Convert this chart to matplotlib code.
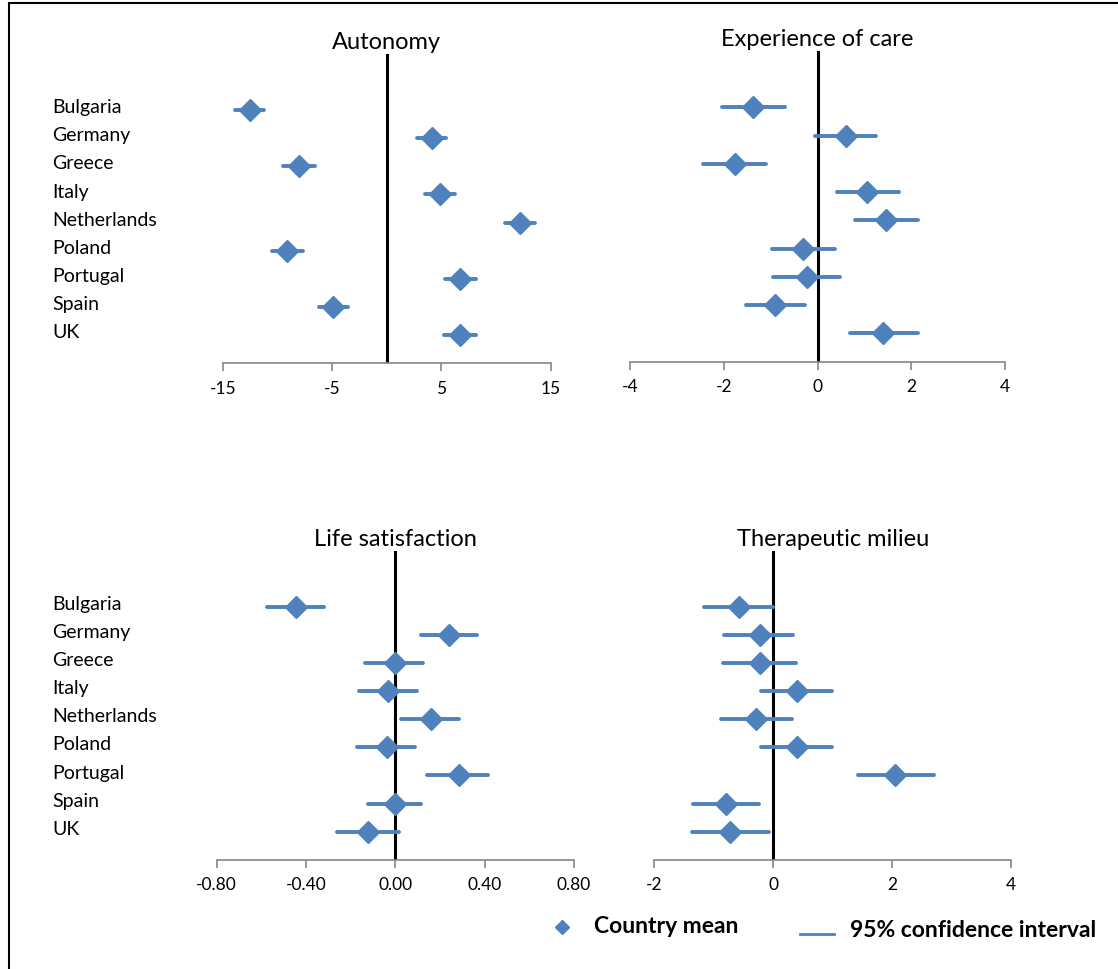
import matplotlib
matplotlib.use("Agg")
import matplotlib.pyplot as plt
import matplotlib.transforms as mtransforms
from matplotlib.lines import Line2D

plt.rcParams['font.family'] = ['Lato', 'DejaVu Sans']

countries = ['Bulgaria', 'Germany', 'Greece', 'Italy', 'Netherlands',
             'Poland', 'Portugal', 'Spain', 'UK']

# Autonomy
auto_mean = [-12.5, 4.1, -8.0, 4.9, 12.2, -9.15, 6.7, -4.9, 6.7]
auto_lo = [-13.9, 2.75, -9.45, 3.5, 10.8, -10.5, 5.3, -6.2, 5.2]
auto_hi = [-11.2, 5.4, -6.6, 6.25, 13.6, -7.7, 8.2, -3.5, 8.2]

# Experience of care
care_mean = [-1.37, 0.60, -1.77, 1.06, 1.46, -0.32, -0.22, -0.90, 1.40]
care_lo = [-2.04, -0.05, -2.45, 0.41, 0.81, -0.98, -0.96, -1.52, 0.69]
care_hi = [-0.69, 1.25, -1.10, 1.74, 2.15, 0.37, 0.49, -0.27, 2.14]

# Life satisfaction
life_mean = [-0.446, 0.240, 0.0, -0.031, 0.160, -0.039, 0.285, 0.0, -0.121]
life_lo = [-0.573, 0.115, -0.136, -0.161, 0.025, -0.170, 0.140, -0.124, -0.260]
life_hi = [-0.319, 0.364, 0.125, 0.096, 0.285, 0.088, 0.417, 0.115, 0.017]

# Therapeutic milieu
ther_mean = [-0.58, -0.23, -0.22, 0.40, -0.29, 0.40, 2.05, -0.79, -0.72]
ther_lo = [-1.16, -0.82, -0.84, -0.21, -0.88, -0.21, 1.42, -1.35, -1.36]
ther_hi = [0.0, 0.34, 0.38, 0.99, 0.32, 0.99, 2.70, -0.24, -0.07]

blue = '#4F81BD'
W, H = 1118, 970


def px_axes(x0, x1, ytop, ybot):
    return [x0 / W, 1 - ybot / H, (x1 - x0) / W, (ybot - ytop) / H]


def draw_panel(ax, title, mean, lo, hi, xlim, xticks, xlabels, label_top):
    n = len(countries)
    ypos = [n - i for i in range(n)]
    for y, a, b in zip(ypos, lo, hi):
        ax.plot([a, b], [y, y], color=blue, lw=2.8, solid_capstyle='round', zorder=2)
    ax.plot(mean, ypos, linestyle='none', marker='D', markersize=11,
            color=blue, zorder=3)
    ax.axvline(0, color='black', lw=2.2, zorder=1)
    ax.set_xlim(*xlim)
    ax.set_ylim(0, 11)
    ax.set_xticks(xticks)
    ax.set_xticklabels(xlabels, fontsize=12.5)
    ax.set_yticks([])
    for s in ['top', 'left', 'right']:
        ax.spines[s].set_visible(False)
    ax.spines['bottom'].set_color('#868686')
    ax.spines['bottom'].set_linewidth(1.2)
    ax.tick_params(axis='x', direction='out', length=6, width=1.2,
                   color='#868686', pad=6)
    ax.set_title(title, fontsize=17, pad=4)
    if label_top:
        tr = mtransforms.blended_transform_factory(fig.transFigure, ax.transData)
        for y, c in zip(ypos, countries):
            ax.text(52 / W, y + 0.12, c, transform=tr, fontsize=14,
                    ha='left', va='center')


fig = plt.figure(figsize=(W / 100, H / 100), dpi=100)

ax1 = fig.add_axes(px_axes(222.7, 550.7, 55, 364))
draw_panel(ax1, 'Autonomy', auto_mean, auto_lo, auto_hi, (-15, 15),
           [-15, -5, 5, 15], ['-15', '-5', '5', '15'], True)

ax2 = fig.add_axes(px_axes(630, 1005, 52, 362.7))
draw_panel(ax2, 'Experience of care', care_mean, care_lo, care_hi, (-4, 4),
           [-4, -2, 0, 2, 4], ['-4', '-2', '0', '2', '4'], False)

ax3 = fig.add_axes(px_axes(216.7, 574, 551.6, 860.7))
draw_panel(ax3, 'Life satisfaction', life_mean, life_lo, life_hi, (-0.8, 0.8),
           [-0.8, -0.4, 0, 0.4, 0.8], ['-0.80', '-0.40', '0.00', '0.40', '0.80'], True)

ax4 = fig.add_axes(px_axes(654.3, 1011, 551.6, 860.7))
draw_panel(ax4, 'Therapeutic milieu', ther_mean, ther_lo, ther_hi, (-2, 4),
           [-2, 0, 2, 4], ['-2', '0', '2', '4'], False)

# legend
fig.add_artist(Line2D([562 / W], [1 - 928 / H], marker='D', markersize=7,
                      color=blue, linestyle='none'))
fig.text(594 / W, 1 - 927 / H, 'Country mean', fontsize=16.5, fontweight='bold',
         ha='left', va='center')
fig.add_artist(Line2D([800 / W, 834 / W], [1 - 935 / H, 1 - 935 / H],
                      color=blue, lw=2))
fig.text(850 / W, 1 - 931 / H, '95% confidence interval', fontsize=16.5,
         fontweight='bold', ha='left', va='center')

# frame (top and left edges)
fig.add_artist(Line2D([9 / W, 9 / W], [0, 1 - 4 / H], color='black', lw=1.5))
fig.add_artist(Line2D([9 / W, 1], [1 - 4 / H, 1 - 4 / H], color='black', lw=1.5))

fig.savefig('out.png', dpi=100)
